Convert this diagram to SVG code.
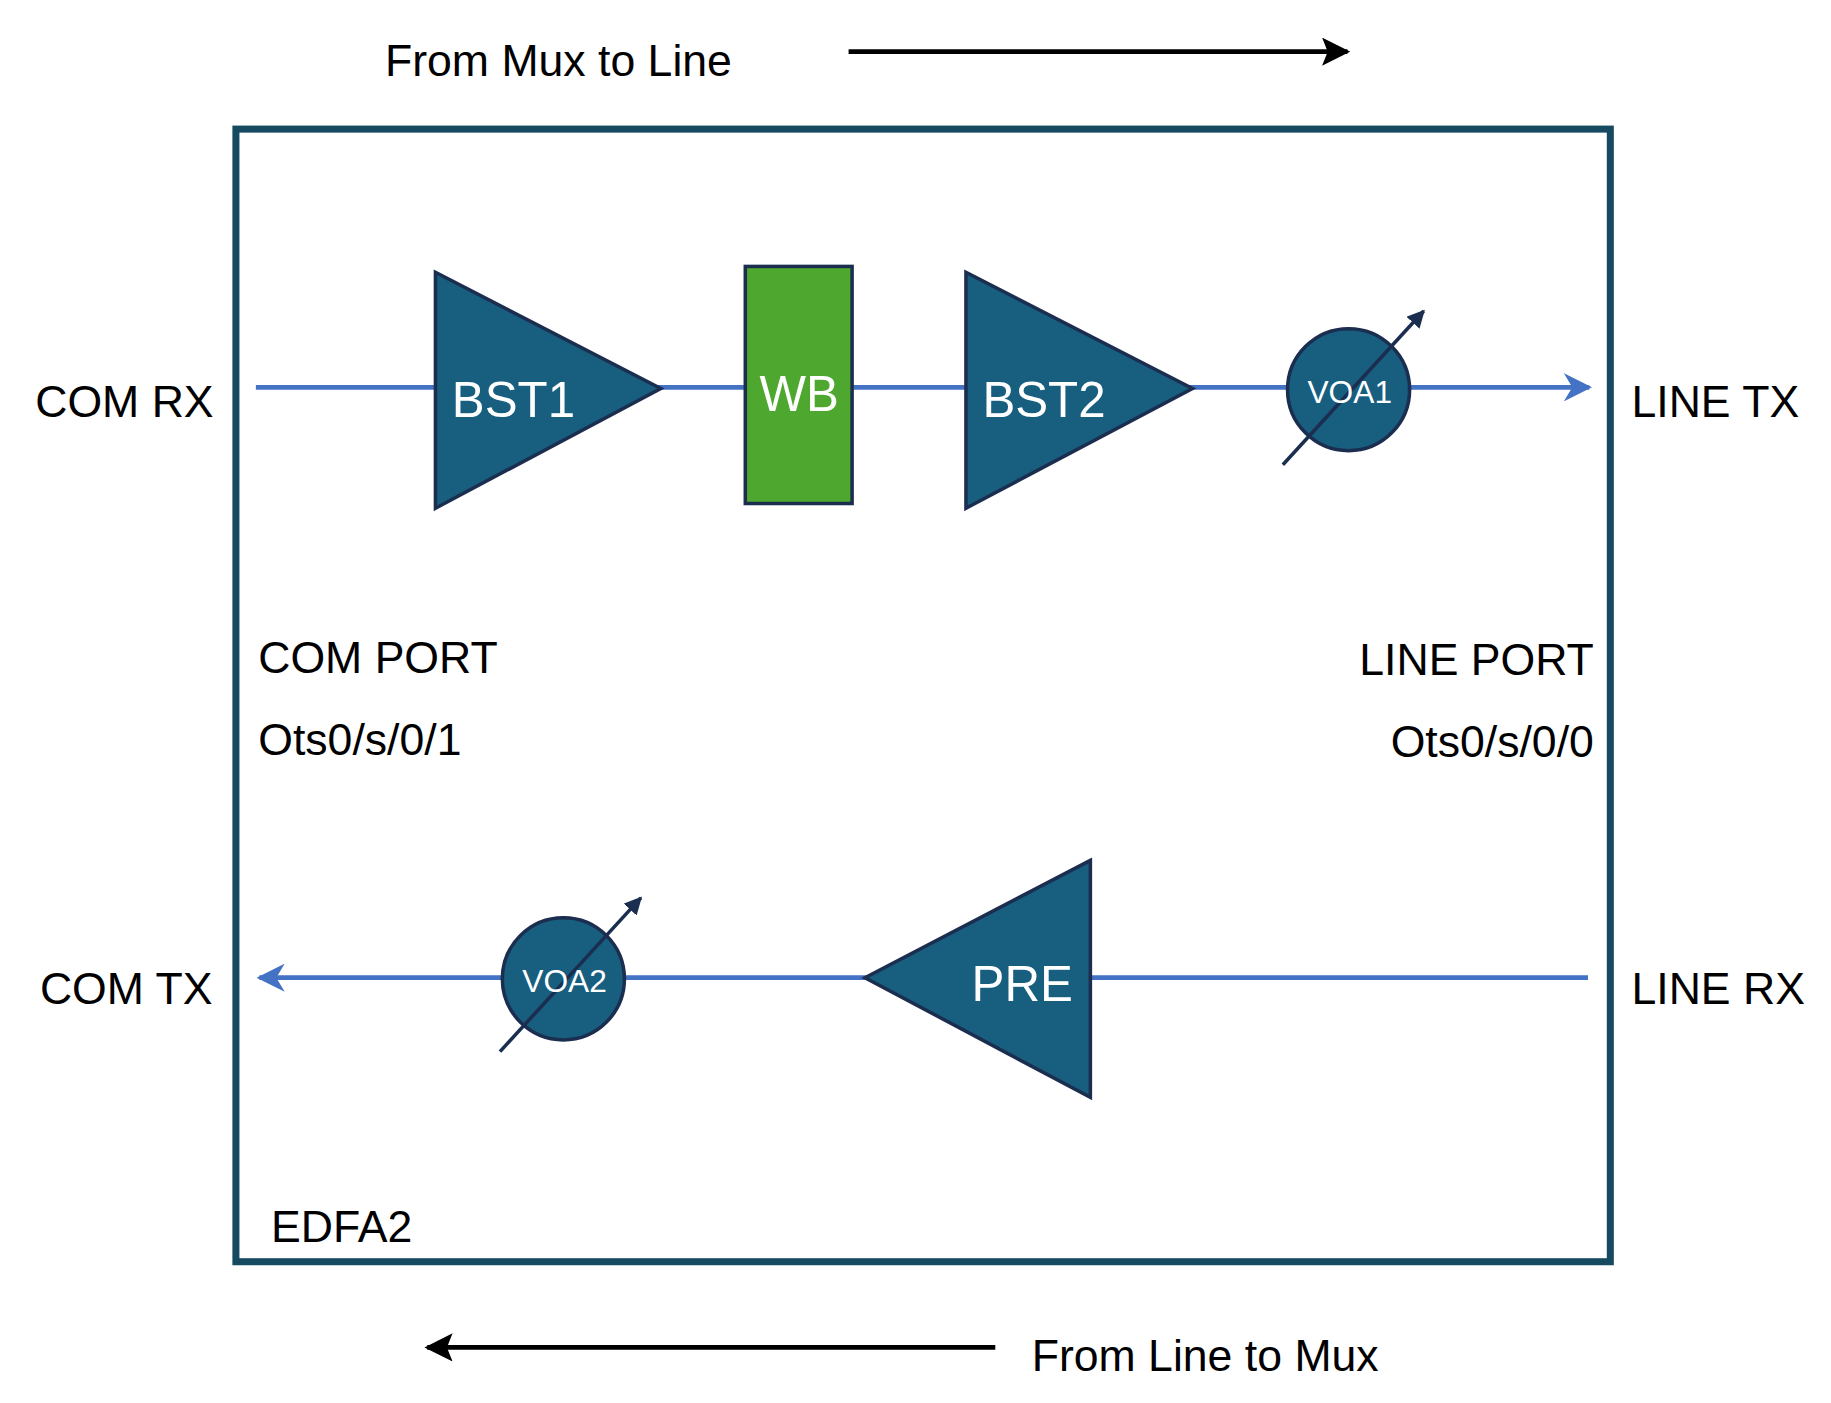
<svg xmlns="http://www.w3.org/2000/svg" width="1831" height="1403" viewBox="0 0 1831 1403">
<defs>
<style>
.t{font-family:"Liberation Sans",Arial,sans-serif;fill:#000;font-size:38px}
.w{font-family:"Liberation Sans",Arial,sans-serif;fill:#fff}
.amp{fill:#175e7f;stroke:#1b2e4f;stroke-width:3}
.sig{stroke:#4472c4;stroke-width:4;fill:none}
.blk{stroke:#000;stroke-width:4;fill:none}
</style>
<marker id="ob" viewBox="0 0 10 10" refX="9" refY="5" markerWidth="6" markerHeight="6" orient="auto"><path d="M0,0 L10,5 L0,10 L3,5 Z" fill="#4472c4"/></marker>
<marker id="bk" viewBox="0 0 10 10" refX="9" refY="5" markerWidth="6" markerHeight="6" orient="auto"><path d="M0,0 L10,5 L0,10 L2,5 Z" fill="#000"/></marker>
<marker id="dk" viewBox="0 0 10 10" refX="9" refY="5" markerWidth="5" markerHeight="5" orient="auto"><path d="M0,0 L10,5 L0,10 Z" fill="#1b2e4f"/></marker>
</defs>
<rect width="1831" height="1403" fill="#fff"/>
<g transform="scale(1.1737)">
<g id="box"><rect x="201" y="110" width="1171" height="965" fill="none" stroke="#154a60" stroke-width="6"/>
<text class="t" x="231" y="1058" font-size="36">EDFA2</text></g>
<g id="connectors">
<line class="blk" x1="723" y1="44" x2="1148" y2="44" marker-end="url(#bk)"/>
<line class="blk" x1="848" y1="1148" x2="364" y2="1148" marker-end="url(#bk)"/>
<line class="sig" x1="218" y1="330" x2="1354" y2="330" marker-end="url(#ob)"/>
<line class="sig" x1="1353" y1="833" x2="221" y2="833" marker-end="url(#ob)"/>
</g>
<g id="labels">
<text class="t" x="328" y="65">From Mux to Line</text>
<text class="t" x="879" y="1168">From Line to Mux</text>
<text class="t" x="30" y="355">COM RX</text>
<text class="t" x="1390" y="355">LINE TX</text>
<text class="t" x="34" y="855">COM TX</text>
<text class="t" x="1390" y="855">LINE RX</text>
<text class="t" x="220" y="573">COM PORT</text>
<text class="t" x="220" y="643">Ots0/s/0/1</text>
<text class="t" x="1358" y="575" text-anchor="end">LINE PORT</text>
<text class="t" x="1358" y="645" text-anchor="end">Ots0/s/0/0</text>
</g>
<g id="BST1"><polygon class="amp" points="371,232 563,331 371,433"/><text class="w" x="385" y="355" font-size="42">BST1</text></g>
<g id="WB"><rect x="635" y="227" width="91" height="202" fill="#4ea72e" stroke="#1b2e4f" stroke-width="3"/><text class="w" x="681" y="350" font-size="42" text-anchor="middle">WB</text></g>
<g id="BST2"><polygon class="amp" points="823,232 1016,331 823,433"/><text class="w" x="837" y="355" font-size="42">BST2</text></g>
<g id="VOA1"><circle class="amp" cx="1149" cy="332" r="52"/><line x1="1093" y1="396" x2="1213" y2="265" stroke="#1b2e4f" stroke-width="3" marker-end="url(#dk)"/><text class="w" x="1150" y="343" font-size="27" text-anchor="middle">VOA1</text></g>
<g id="PRE"><polygon class="amp" points="929,733 737,833 929,935"/><text class="w" x="871" y="853" font-size="42" text-anchor="middle">PRE</text></g>
<g id="VOA2"><circle class="amp" cx="480" cy="834" r="52"/><line x1="426" y1="896" x2="546" y2="765" stroke="#1b2e4f" stroke-width="3" marker-end="url(#dk)"/><text class="w" x="481" y="845" font-size="27" text-anchor="middle">VOA2</text></g>
</g>
</svg>
